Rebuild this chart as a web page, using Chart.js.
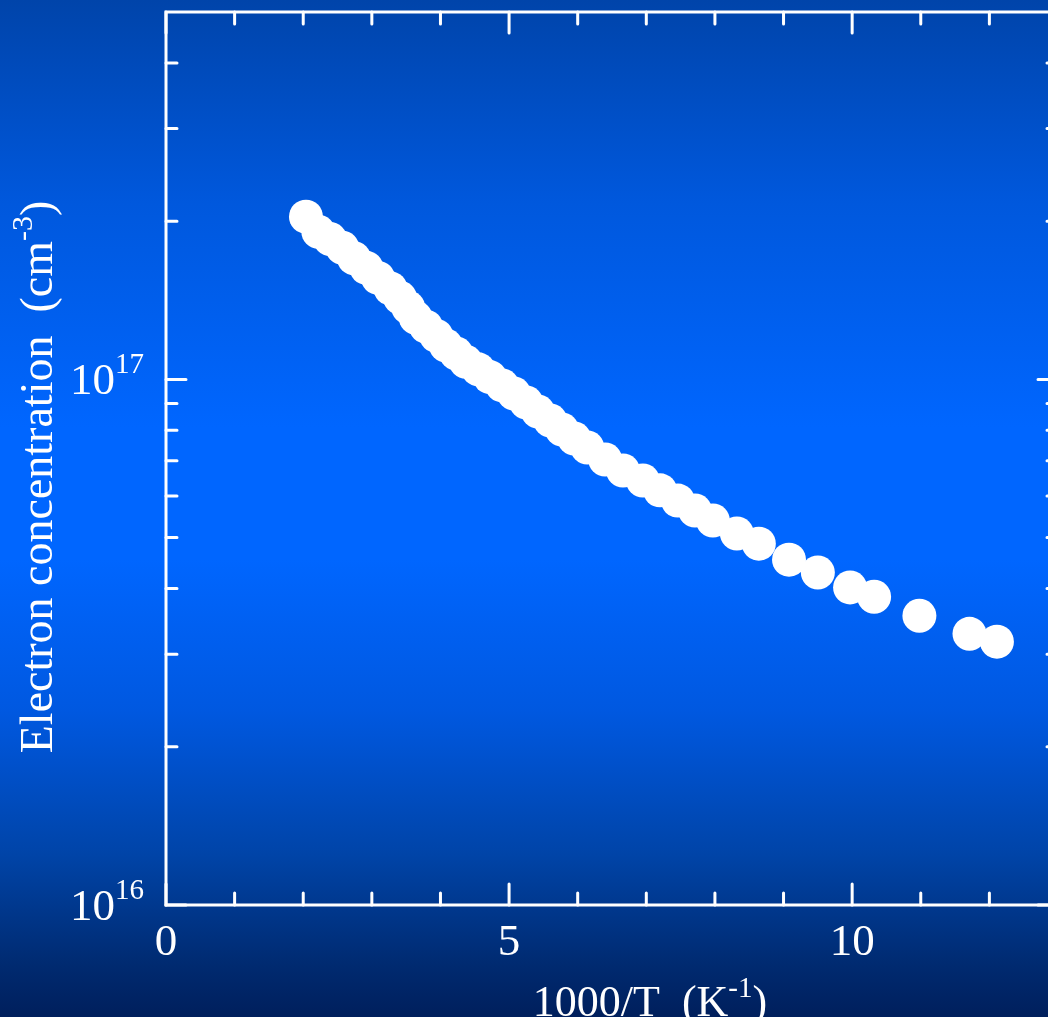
<!DOCTYPE html>
<html>
    <head>
        <title>Electron concentration</title>
        <meta charset="UTF-8">
        <script src="https://cdn.jsdelivr.net/npm/chart.js@4.4.1/dist/chart.umd.min.js"></script>
        <style>
            html, body {
                margin: 0;
                padding: 0;
                overflow: hidden;
                width: 1048px;
                height: 1017px;
                background: linear-gradient(to bottom, #0044aa 0%, #0058dd 20%, #0066ff 42%, #0066ff 55%, #0058e0 70%, #0044a8 84%, #002a70 95%, #001f5c 100%);
            }
            #wrap {
                position: absolute;
                left: 0;
                top: 0;
                width: 1070px;
                height: 1017px;
            }
        </style>
    </head>
    <body>
        <div id='wrap'>
            <canvas id='myChart' width='1070' height='1017'></canvas>
        </div>
        <script>
            // measured points: 1000/T (K^-1) and n (cm^-3)
            let invT = [
                2.04, 2.22, 2.39, 2.57, 2.74, 2.92, 3.09, 3.27, 3.41, 3.53,
                3.64, 3.79, 3.94, 4.08, 4.23, 4.37, 4.55, 4.72, 4.90, 5.07,
                5.25, 5.42, 5.60, 5.77, 5.95, 6.14, 6.40, 6.66, 6.95, 7.20,
                7.46, 7.71, 7.97, 8.32, 8.64, 9.08, 9.50, 9.97, 10.32, 10.98,
                11.71, 12.11
            ];
            let electronConc = [
                2.04e17, 1.91e17, 1.85e17, 1.78e17, 1.70e17, 1.63e17, 1.56e17, 1.49e17, 1.43e17, 1.37e17,
                1.31e17, 1.26e17, 1.21e17, 1.16e17, 1.12e17, 1.08e17, 1.045e17, 1.01e17, 9.74e16, 9.40e16,
                9.04e16, 8.69e16, 8.35e16, 8.03e16, 7.72e16, 7.42e16, 7.04e16, 6.71e16, 6.42e16, 6.15e16,
                5.88e16, 5.63e16, 5.39e16, 5.09e16, 4.87e16, 4.54e16, 4.29e16, 4.02e16, 3.86e16, 3.55e16,
                3.28e16, 3.17e16
            ];

            // axis ticks
            let xMajorTicks = [0, 5, 10];
            let xMinorTicks = [1, 2, 3, 4, 6, 7, 8, 9, 11, 12];
            let xTickLabels = ['0', '5', '10'];
            let yMajorTicks = [1e16, 1e17];
            let yMinorTicks = [2e16, 3e16, 4e16, 5e16, 6e16, 7e16, 8e16, 9e16, 2e17, 3e17, 4e17];
            let yTickExponents = ['16', '17'];

            let serif = '"Liberation Serif", "Times New Roman", serif';

            // draws a row of text pieces (normal + superscript) one after another
            function drawParts(ctx, parts, x, y, align) {
                let widths = parts.map(p => {
                    ctx.font = p.size + 'px ' + serif;
                    return ctx.measureText(p.text).width;
                });
                let total = widths.reduce((a, b) => a + b, 0);
                let cx = x;
                if (align === 'center') cx = x - total / 2;
                if (align === 'right') cx = x - total;
                ctx.textAlign = 'left';
                ctx.textBaseline = 'alphabetic';
                parts.forEach((p, i) => {
                    ctx.font = p.size + 'px ' + serif;
                    ctx.fillText(p.text, cx, y + (p.dy || 0));
                    cx += widths[i];
                });
            }

            let framePlugin = {
                id: 'frame',
                afterDraw(chart) {
                    let ctx = chart.ctx;
                    let a = chart.chartArea;
                    let xs = chart.scales.x;
                    let ys = chart.scales.y;

                    ctx.save();
                    ctx.strokeStyle = '#ffffff';
                    ctx.fillStyle = '#ffffff';
                    ctx.lineWidth = 3;
                    ctx.lineCap = 'round';

                    // box round the plot
                    ctx.strokeRect(a.left, a.top, a.right - a.left, a.bottom - a.top);

                    // inward ticks on all four sides
                    function xTick(v, len) {
                        let px = xs.getPixelForValue(v);
                        ctx.beginPath();
                        ctx.moveTo(px, a.bottom);
                        ctx.lineTo(px, a.bottom - len);
                        ctx.moveTo(px, a.top);
                        ctx.lineTo(px, a.top + len);
                        ctx.stroke();
                    }
                    function yTick(v, len) {
                        let py = ys.getPixelForValue(v);
                        ctx.beginPath();
                        ctx.moveTo(a.left, py);
                        ctx.lineTo(a.left + len, py);
                        ctx.moveTo(a.right, py);
                        ctx.lineTo(a.right - len, py);
                        ctx.stroke();
                    }
                    xMajorTicks.forEach(v => xTick(v, 21));
                    xMinorTicks.forEach(v => xTick(v, 12));
                    yMajorTicks.forEach(v => yTick(v, 20));
                    yMinorTicks.forEach(v => yTick(v, 11));

                    // tick labels
                    xMajorTicks.forEach((v, i) => {
                        drawParts(ctx, [{text: xTickLabels[i], size: 45}], xs.getPixelForValue(v), a.bottom + 50, 'center');
                    });
                    yMajorTicks.forEach((v, i) => {
                        drawParts(ctx, [
                            {text: '10', size: 45},
                            {text: yTickExponents[i], size: 29, dy: -21}
                        ], a.left - 22, ys.getPixelForValue(v) + 15, 'right');
                    });

                    // axis titles
                    drawParts(ctx, [
                        {text: '1000/T  (K', size: 44},
                        {text: '-1', size: 29, dy: -19},
                        {text: ')', size: 44}
                    ], 650, 1016, 'center');

                    ctx.translate(52, 477);
                    ctx.rotate(-Math.PI / 2);
                    drawParts(ctx, [
                        {text: 'Electron concentration  (cm', size: 46},
                        {text: '-3', size: 30, dy: -20},
                        {text: ')', size: 46}
                    ], 0, 0, 'center');
                    ctx.restore();
                }
            };

            let points = invT.map((x, i) => ({x: x, y: electronConc[i]}));

            let ctx = document.getElementById('myChart').getContext('2d');
            var chart = new Chart(ctx, {
                type: 'scatter',
                data: {
                    datasets: [{
                        data: points,
                        backgroundColor: '#ffffff',
                        borderWidth: 0,
                        pointRadius: 17,
                        pointHoverRadius: 17
                    }]
                },
                options: {
                    responsive: false,
                    animation: false,
                    devicePixelRatio: 1,
                    layout: {
                        autoPadding: false,
                        padding: {left: 166, top: 12, right: 12, bottom: 112}
                    },
                    plugins: {
                        legend: {display: false},
                        tooltip: {enabled: false}
                    },
                    scales: {
                        x: {
                            type: 'linear',
                            min: 0,
                            max: 13,
                            display: false
                        },
                        y: {
                            type: 'logarithmic',
                            min: 1e16,
                            max: 5e17,
                            display: false
                        }
                    }
                },
                plugins: [framePlugin]
            });
        </script>
    </body>
</html>
